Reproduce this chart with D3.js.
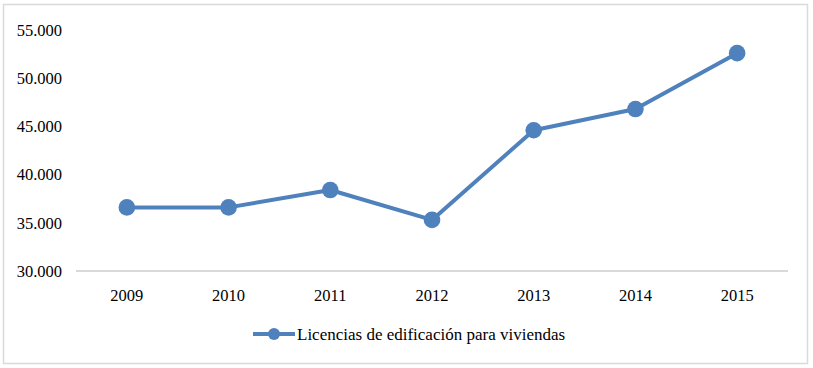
<!DOCTYPE html>
<html>
  <head>
    <meta charset="utf-8" />
    <title>Licencias de edificación</title>
    <script src="https://d3js.org/d3.v7.min.js"></script>
    <style>
      body { margin: 0; background: #fff; }
      text { font-family: "Liberation Serif", "Times New Roman", serif; fill: #000; }
    </style>
  </head>
  <body>
    <script>
      let years = ["2009", "2010", "2011", "2012", "2013", "2014", "2015"];
      let licencias = [36600, 36600, 38400, 35300, 44600, 46800, 52600];
      let yTicks = [30000, 35000, 40000, 45000, 50000, 55000];
      let seriesName = "Licencias de edificación para viviendas";

      let width = 813;
      let height = 368;
      let color = "#4f81bd";

      let svg = d3
        .select("body")
        .append("svg")
        .attr("width", width)
        .attr("height", height);

      // chart frame
      svg
        .append("rect")
        .attr("x", 3.5)
        .attr("y", 4.5)
        .attr("width", 804)
        .attr("height", 359)
        .attr("fill", "#fff")
        .attr("stroke", "#d9d9d9")
        .attr("stroke-width", 1.5);

      let x = d3.scaleBand().domain(years).range([76, 788]);
      let y = d3.scaleLinear().domain([30000, 55000]).range([271, 30]);

      let fmt = (d) => d3.format(",")(d).replace(/,/g, ".");

      // y tick labels (no gridlines)
      svg
        .selectAll(".ylabel")
        .data(yTicks)
        .join("text")
        .attr("class", "ylabel")
        .attr("x", 62)
        .attr("y", (d) => y(d))
        .attr("dy", "0.35em")
        .attr("text-anchor", "end")
        .attr("font-size", 16.5)
        .text(fmt);

      // x axis line
      svg
        .append("line")
        .attr("x1", x.range()[0])
        .attr("x2", x.range()[1])
        .attr("y1", y(30000))
        .attr("y2", y(30000))
        .attr("stroke", "#d9d9d9")
        .attr("stroke-width", 2);

      svg
        .selectAll(".xlabel")
        .data(years)
        .join("text")
        .attr("class", "xlabel")
        .attr("x", (d) => x(d) + x.bandwidth() / 2)
        .attr("y", 301)
        .attr("text-anchor", "middle")
        .attr("font-size", 16.5)
        .text((d) => d);

      // series line
      let line = d3
        .line()
        .x((d, i) => x(years[i]) + x.bandwidth() / 2)
        .y((d) => y(d));

      svg
        .append("path")
        .datum(licencias)
        .attr("d", line)
        .attr("fill", "none")
        .attr("stroke", color)
        .attr("stroke-width", 4)
        .attr("stroke-linejoin", "round");

      svg
        .selectAll(".dot")
        .data(licencias)
        .join("circle")
        .attr("class", "dot")
        .attr("cx", (d, i) => x(years[i]) + x.bandwidth() / 2)
        .attr("cy", (d) => y(d))
        .attr("r", 8.3)
        .attr("fill", color);

      // legend
      let legend = svg.append("g").attr("transform", "translate(253,334)");
      legend
        .append("line")
        .attr("x1", 0)
        .attr("x2", 42)
        .attr("stroke", color)
        .attr("stroke-width", 4);
      legend
        .append("circle")
        .attr("cx", 21)
        .attr("r", 6)
        .attr("fill", color);
      legend
        .append("text")
        .attr("x", 44)
        .attr("dy", "0.35em")
        .attr("font-size", 17)
        .text(seriesName);
    </script>
  </body>
</html>
